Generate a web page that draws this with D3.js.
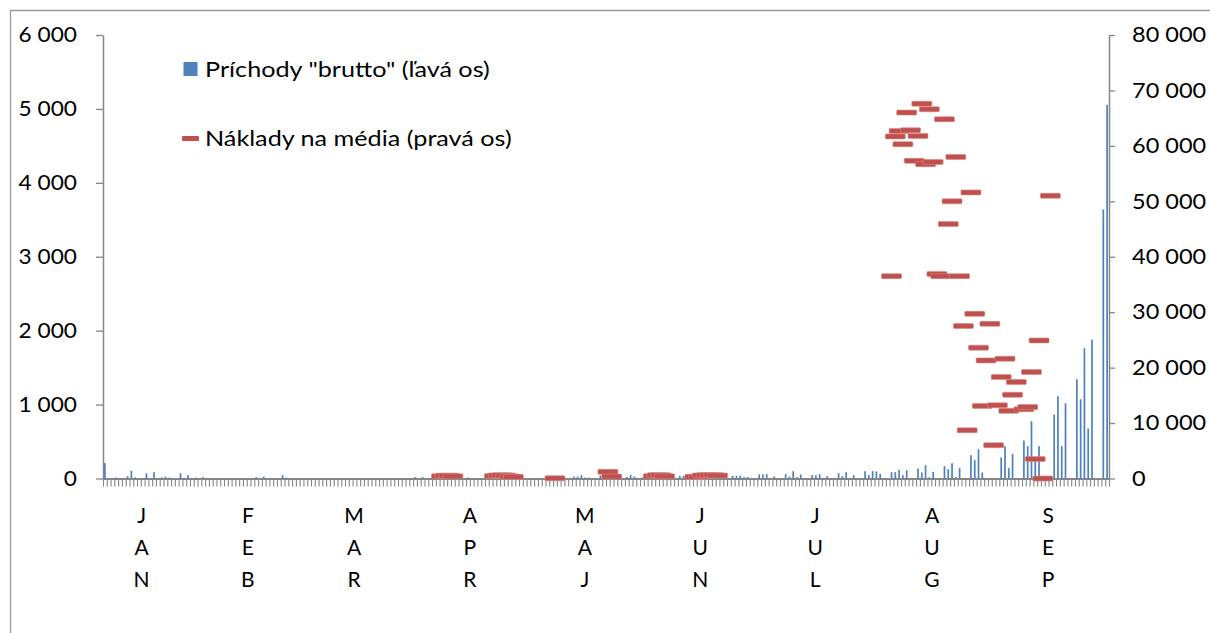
<!DOCTYPE html>
<html>
<head>
<meta charset="utf-8">
<script src="https://cdn.jsdelivr.net/npm/d3@7"></script>
<style>
  html, body { margin: 0; padding: 0; background: #fff; }
  svg text { font-family: Lato, "Open Sans", sans-serif; fill: #000; }
</style>
</head>
<body>
<svg id="chart" width="1210" height="633"></svg>
<script>
// Daily categories (index 0 .. dayCount-1)
const dayCount = 266;

// Month labels and the (fractional) day index each one is centred on
const monthLabels = ["JAN", "FEB", "MAR", "APR", "MAJ", "JUN", "JUL", "AUG", "SEP"];
const monthLabelDay = [9.7, 37.8, 65.9, 96.5, 126.9, 157.4, 187.8, 218.7, 249.4];

// Arrivals "brutto" (left axis) – days without a value are empty
const arrivalDay = [0, 3, 6, 7, 8, 11, 13, 15, 16, 17, 20, 22, 24, 26, 40, 42, 44, 47, 48, 49,
  79, 82, 84, 96, 98, 124, 125, 126, 127, 128, 131, 138, 139, 140, 142, 145, 152, 153, 154, 155,
  166, 167, 168, 169, 170, 173, 174, 175, 177, 180, 181, 182, 183, 184, 187, 188, 189, 191,
  194, 195, 196, 198, 201, 202, 203, 204, 205, 208, 209, 210, 211, 212, 215, 216, 217, 218, 219,
  222, 223, 224, 225, 226, 229, 230, 231, 232, 237, 238, 239, 240, 243, 244, 245, 246, 247,
  251, 252, 253, 254, 257, 258, 259, 260, 261, 264, 265];
const arrivalCount = [210, 15, 30, 105, 15, 68, 85, 15, 27, 12, 72, 45, 12, 18, 18, 27, 5, 45, 12, 5,
  5, 18, 18, 13, 7, 27, 27, 45, 13, 13, 40, 20, 50, 27, 13, 27, 36, 36, 36, 36,
  36, 36, 40, 20, 20, 54, 54, 58, 27, 58, 27, 99, 18, 54, 45, 45, 58, 32,
  72, 32, 85, 45, 99, 45, 99, 95, 63, 85, 85, 117, 45, 112, 135, 81, 180, 18, 90,
  166, 126, 207, 18, 140, 315, 248, 396, 81, 284, 437, 140, 333, 514, 437, 775, 250, 437,
  865, 1112, 437, 1017, 1342, 1072, 1762, 676, 1880, 3640, 5055];

// Media costs (right axis)
const mediaDay = [89, 90, 91, 92, 103, 104, 105, 106, 107, 108, 119, 133, 134, 145, 146, 147, 148,
  156, 157, 158, 159, 160, 161, 162,
  208, 209, 210, 211, 212, 213, 214, 215, 216, 217, 218, 219, 220, 221, 222, 223, 224, 225, 226,
  227, 228, 229, 230, 231, 232, 233, 234, 235, 236, 237, 238, 239, 240, 241, 243, 244, 245, 246,
  247, 248, 250];
const mediaCost = [400, 500, 500, 400, 450, 550, 600, 550, 350, 300, 50, 1200, 350, 400, 600, 600, 400,
  300, 300, 550, 600, 600, 600, 550,
  36500, 61700, 62700, 60300, 66000, 62800, 57300, 61800, 67600, 56700, 66600, 57100, 36900, 36500,
  64800, 45900, 50000, 58000, 36500,
  27500, 8700, 51600, 29700, 23600, 13100, 21300, 27900, 6000, 13200, 18300, 21600, 12200, 15100,
  17400, 12500, 12900, 19200, 3500,
  24900, 0, 51000];

// Axis ticks
const leftTicks = [0, 1000, 2000, 3000, 4000, 5000, 6000];
const rightTicks = [0, 10000, 20000, 30000, 40000, 50000, 60000, 70000, 80000];

const legendItems = ['Príchody "brutto" (ľavá os)', 'Náklady na média (pravá os)'];

const BLUE = "#4f81bd", RED = "#c0504d", AXIS = "#868686";
const FONT_SIZE = 21;

const svg = d3.select("#chart");
const plot = { left: 103, right: 1109, top: 35, bottom: 478.5 };

const x = d3.scaleBand().domain(d3.range(dayCount)).range([plot.left, plot.right]).padding(0);
const xEdge = d3.scaleLinear().domain([0, dayCount]).range([plot.left, plot.right]);
const yL = d3.scaleLinear().domain([0, 6000]).range([plot.bottom, plot.top]);
const yR = d3.scaleLinear().domain([0, 80000]).range([plot.bottom, plot.top]);

const fmt = d3.formatLocale({ decimal: ",", thousands: " ", grouping: [3], currency: ["", ""] }).format(",");

// chart frame
svg.append("path")
  .attr("d", "M10.5,633 V10.5 H1210")
  .attr("fill", "none").attr("stroke", "#9a9a9a").attr("stroke-width", 1.3);

// left axis
const gL = svg.append("g").attr("transform", `translate(${plot.left},0)`)
  .call(d3.axisLeft(yL).tickValues(leftTicks).tickSize(7).tickSizeOuter(0).tickFormat(fmt));
// right axis
const gR = svg.append("g").attr("transform", `translate(${plot.right},0)`)
  .call(d3.axisRight(yR).tickValues(rightTicks).tickSize(6).tickSizeOuter(0).tickFormat(fmt));
[gL, gR].forEach(g => {
  g.select(".domain").attr("stroke", AXIS).attr("stroke-width", 1.5);
  g.selectAll(".tick line").attr("stroke", AXIS).attr("stroke-width", 1.3);
  g.selectAll(".tick text").attr("font-size", FONT_SIZE).attr("font-family", "Lato").attr("fill", "#000");
});
// tick labels are drawn slightly wide
gL.selectAll(".tick text").attr("x", 0).attr("transform", "translate(-26,0) scale(1.08,1)");
gR.selectAll(".tick text").attr("x", 0).attr("transform", "translate(23,0) scale(1.12,1)");

// category axis with a tick mark between every day
const gX = svg.append("g").attr("transform", `translate(0,${plot.bottom})`)
  .call(d3.axisBottom(xEdge).tickValues(d3.range(dayCount + 1)).tickSize(8).tickSizeOuter(0).tickFormat(""));
gX.select(".domain").attr("stroke", AXIS).attr("stroke-width", 1.8);
gX.selectAll(".tick line").attr("stroke", AXIS).attr("stroke-width", 1.1);

// month labels, one letter per line
const ml = svg.append("g").selectAll("text").data(monthLabels).join("text")
  .attr("text-anchor", "middle")
  .attr("font-size", FONT_SIZE)
  .attr("x", (d, i) => xEdge(monthLabelDay[i] + 0.5));
ml.each(function (d) {
  const t = d3.select(this);
  d.split("").forEach((ch, k) => {
    t.append("tspan").attr("x", t.attr("x")).attr("y", 523 + k * 32).text(ch);
  });
});

// arrival bars
const barW = 1.7;
svg.append("g").selectAll("rect").data(arrivalDay).join("rect")
  .attr("x", (d) => x(d) + x.bandwidth() / 2 - barW / 2)
  .attr("width", barW)
  .attr("y", (d, i) => yL(arrivalCount[i]))
  .attr("height", (d, i) => yL(0) - yL(arrivalCount[i]))
  .attr("fill", BLUE);

// media cost markers (dash)
const dashW = 20, dashH = 5;
svg.append("g").selectAll("rect").data(mediaDay).join("rect")
  .attr("x", (d) => x(d) + x.bandwidth() / 2 - dashW / 2)
  .attr("y", (d, i) => yR(mediaCost[i]) - dashH / 2)
  .attr("width", dashW).attr("height", dashH).attr("rx", 1)
  .attr("fill", RED).attr("stroke", "#d98a88").attr("stroke-width", 0.6);

// legend
const lg = svg.append("g");
lg.append("rect").attr("x", 183.5).attr("y", 62).attr("width", 14).attr("height", 14).attr("fill", BLUE);
lg.append("rect").attr("x", 182).attr("y", 136).attr("width", 17).attr("height", 5).attr("rx", 1).attr("fill", RED);
lg.selectAll("text").data(legendItems).join("text")
  .attr("x", 0).attr("y", 0)
  .attr("transform", (d, i) => `translate(205,${77 + i * 69}) scale(1.2,1)`)
  .attr("font-size", FONT_SIZE)
  .text(d => d);
</script>
</body>
</html>
